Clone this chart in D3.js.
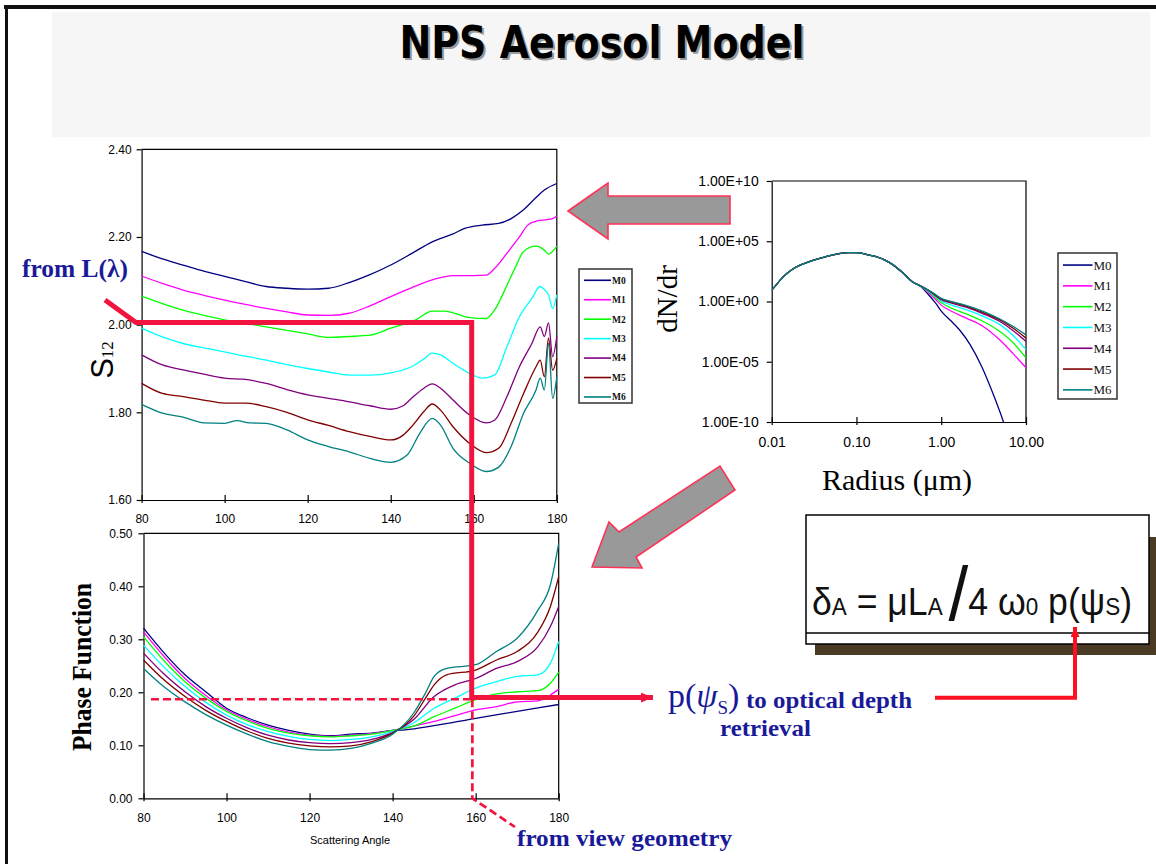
<!DOCTYPE html>
<html><head><meta charset="utf-8">
<script src="https://d3js.org/d3.v7.min.js"></script>
<style>body{margin:0;background:#fff}svg{display:block}</style>
</head><body>
<svg id="c" width="1156" height="864"></svg>
<script>
// ---------------- DATA ----------------
const seriesNames = ["M0","M1","M2","M3","M4","M5","M6"];
const seriesColors = ["#000080","#ff00ff","#00ff00","#00ffff","#800080","#800000","#008080"];

// S12 vs scattering angle  [angle, S12]
const s12M0 = [[80,2.167],[85,2.150],[90,2.136],[95,2.122],[100,2.110],[105,2.098],[110,2.087],[115,2.083],[120,2.081],[125,2.083],[130,2.096],[135,2.114],[140,2.136],[145,2.162],[150,2.189],[155,2.207],[158,2.220],[162,2.227],[166,2.231],[169,2.242],[172,2.262],[175,2.290],[177,2.307],[180,2.322]];
const s12M1 = [[80,2.111],[85,2.094],[90,2.079],[95,2.067],[100,2.056],[105,2.046],[110,2.037],[115,2.029],[120,2.022],[125,2.021],[130,2.026],[135,2.043],[140,2.064],[145,2.084],[150,2.102],[155,2.112],[160,2.112],[163,2.113],[165,2.128],[168,2.163],[171,2.200],[173,2.227],[175,2.236],[177,2.239],[179,2.242],[180,2.248]];
const s12M2 = [[80,2.065],[85,2.048],[90,2.033],[95,2.021],[100,2.011],[105,2.003],[110,1.995],[115,1.987],[120,1.979],[125,1.971],[130,1.973],[135,1.976],[140,1.992],[146,2.011],[150,2.031],[153,2.031],[156,2.024],[159,2.016],[163,2.014],[165,2.033],[168,2.090],[170,2.130],[172,2.167],[175,2.179],[177,2.170],[178,2.161],[180,2.179]];
const s12M3 = [[80,1.992],[85,1.972],[90,1.957],[95,1.947],[100,1.938],[105,1.928],[110,1.919],[115,1.909],[120,1.900],[125,1.892],[130,1.885],[135,1.885],[140,1.890],[145,1.904],[148,1.922],[150,1.935],[152,1.931],[155,1.912],[159,1.889],[162,1.878],[165,1.885],[168,1.950],[171,2.018],[174,2.060],[176,2.087],[177,2.080],[178,2.068],[179,2.037],[180,2.068]];
const s12M4 = [[80,1.931],[85,1.908],[90,1.897],[95,1.887],[100,1.878],[105,1.875],[110,1.866],[115,1.852],[120,1.840],[125,1.832],[130,1.824],[135,1.815],[140,1.807],[143,1.815],[145,1.832],[148,1.855],[150,1.865],[152,1.855],[155,1.828],[159,1.794],[163,1.776],[165,1.782],[168,1.836],[171,1.904],[174,1.957],[176,1.995],[177,1.973],[178,2.004],[179,1.927],[180,1.973]];
const s12M5 = [[80,1.866],[85,1.843],[90,1.836],[95,1.828],[100,1.821],[105,1.821],[110,1.813],[115,1.800],[120,1.783],[125,1.770],[130,1.756],[135,1.745],[140,1.737],[143,1.748],[145,1.767],[148,1.802],[150,1.819],[152,1.805],[155,1.767],[159,1.729],[163,1.708],[166,1.718],[169,1.775],[172,1.843],[175,1.904],[176,1.919],[177,1.881],[178,1.969],[179,1.896],[180,1.923]];
const s12M6 = [[80,1.818],[85,1.798],[90,1.789],[95,1.776],[100,1.775],[103,1.781],[106,1.776],[110,1.775],[115,1.760],[120,1.737],[125,1.722],[130,1.710],[135,1.695],[140,1.686],[144,1.703],[147,1.752],[150,1.786],[152,1.771],[155,1.718],[159,1.684],[163,1.665],[166,1.675],[169,1.722],[172,1.798],[175,1.851],[176,1.878],[177,1.851],[178,1.957],[179,1.832],[180,1.881]];
const s12Series = [s12M0,s12M1,s12M2,s12M3,s12M4,s12M5,s12M6];
const s12Ticks = [1.60,1.80,2.00,2.20,2.40];
const angleTicks = [80,100,120,140,160,180];

// Phase function vs scattering angle  [angle, P]
const pfM0 = [[80,0.321],[85,0.274],[90,0.233],[95,0.201],[100,0.170],[105,0.152],[110,0.138],[115,0.128],[120,0.121],[125,0.118],[130,0.121],[135,0.123],[140,0.128],[143,0.129],[150,0.137],[160,0.151],[170,0.164],[180,0.177]];
const pfM1 = [[80,0.314],[85,0.267],[90,0.226],[95,0.194],[100,0.167],[105,0.149],[110,0.135],[115,0.125],[120,0.119],[125,0.117],[130,0.119],[135,0.122],[140,0.128],[145,0.136],[150,0.145],[155,0.156],[160,0.167],[165,0.173],[170,0.182],[175,0.184],[178,0.195],[180,0.206]];
const pfM2 = [[80,0.305],[85,0.259],[90,0.220],[95,0.189],[100,0.164],[105,0.146],[110,0.132],[115,0.123],[120,0.118],[125,0.116],[130,0.118],[135,0.121],[140,0.128],[145,0.136],[150,0.154],[155,0.170],[160,0.186],[165,0.197],[170,0.201],[175,0.203],[178,0.217],[180,0.238]];
const pfM3 = [[80,0.289],[85,0.247],[90,0.211],[95,0.181],[100,0.157],[105,0.139],[110,0.126],[115,0.117],[120,0.111],[125,0.109],[130,0.111],[135,0.116],[140,0.126],[145,0.142],[150,0.170],[155,0.189],[160,0.208],[165,0.220],[170,0.230],[175,0.233],[178,0.255],[180,0.296]];
const pfM4 = [[80,0.274],[85,0.234],[90,0.201],[95,0.173],[100,0.151],[105,0.133],[110,0.119],[115,0.110],[120,0.105],[125,0.103],[130,0.105],[135,0.111],[140,0.124],[145,0.148],[150,0.192],[155,0.214],[160,0.226],[165,0.245],[170,0.258],[175,0.286],[178,0.324],[180,0.362]];
const pfM5 = [[80,0.261],[85,0.223],[90,0.192],[95,0.166],[100,0.145],[105,0.127],[110,0.113],[115,0.104],[120,0.099],[125,0.097],[130,0.099],[135,0.107],[140,0.123],[145,0.154],[148,0.190],[150,0.214],[153,0.233],[160,0.242],[165,0.261],[170,0.277],[175,0.314],[178,0.362],[180,0.418]];
const pfM6 = [[80,0.245],[85,0.210],[90,0.182],[95,0.158],[100,0.138],[105,0.121],[110,0.107],[115,0.098],[120,0.092],[125,0.091],[130,0.094],[135,0.104],[140,0.121],[145,0.160],[148,0.200],[150,0.230],[153,0.245],[160,0.252],[165,0.277],[170,0.302],[175,0.355],[178,0.403],[180,0.481]];
const pfSeries = [pfM0,pfM1,pfM2,pfM3,pfM4,pfM5,pfM6];
const pfTicks = [0,0.1,0.2,0.3,0.4,0.5];

// Size distribution dN/dr vs radius (µm)
const sizeCommon = [[0.01,8.9],[0.0112,22],[0.0125,56],[0.015,200],[0.0178,500],[0.022,1.1e3],[0.03,2.5e3],[0.044,5.4e3],[0.06,8.9e3],[0.08,1.15e4],[0.1,1.12e4],[0.13,8.3e3],[0.17,5.2e3],[0.22,2.6e3],[0.27,1.1e3],[0.35,250],[0.46,42],[0.55,22]];
const sizeTailM0 = [[0.7,4.0],[0.85,0.8],[1.0,0.16],[1.3,0.025],[1.64,4.5e-3],[2.2,2.5e-4],[3.0,4e-6],[4.0,3.2e-8],[5.3,1.6e-10],[5.6,5e-11]];
const sizeTailM1 = [[0.7,5.6],[0.85,1.6],[1.0,0.5],[1.27,0.18],[2.0,0.04],[3.13,8.5e-3],[4.92,6.3e-4],[7.0,5e-5],[10,3.2e-6]];
const sizeTailM2 = [[0.7,7.1],[0.85,2.2],[1.0,0.8],[1.27,0.32],[2.0,0.089],[3.13,0.022],[4.92,3.2e-3],[7.0,4e-4],[10,2e-5]];
const sizeTailM3 = [[0.7,7.9],[0.85,2.8],[1.0,1.1],[1.27,0.56],[2.0,0.2],[3.13,0.058],[4.92,0.012],[7.0,1.6e-3],[10,1e-4]];
const sizeTailM4 = [[0.7,8.5],[0.85,3.2],[1.0,1.4],[1.27,0.8],[2.0,0.32],[3.13,0.095],[4.92,0.022],[7.0,4e-3],[10,4.8e-4]];
const sizeTailM5 = [[0.7,8.9],[0.85,3.5],[1.0,1.6],[1.27,0.95],[2.0,0.4],[3.13,0.12],[4.92,0.03],[7.0,6.3e-3],[10,9.1e-4]];
const sizeTailM6 = [[0.7,9.3],[0.85,4.0],[1.0,1.8],[1.27,1.1],[2.0,0.45],[3.13,0.15],[4.92,0.035],[7.0,8.9e-3],[10,1.7e-3]];
const sizeTails = [sizeTailM0,sizeTailM1,sizeTailM2,sizeTailM3,sizeTailM4,sizeTailM5,sizeTailM6];
const radiusTicks = [0.01,0.1,1,10];
const dndrTicks = [1e-10,1e-5,1,1e5,1e10];

// ---------------- DRAWING ----------------
const svg = d3.select("#c");
const SANS = "Liberation Sans, Arial, sans-serif";
const SERIF = "Liberation Serif, Times New Roman, serif";
const BLUE = "#1a1a99";
const RED = "#f2143f";
const NB = "\u00a0";

const defs = svg.append("defs");
function marker(id, color, w, h) {
  defs.append("marker").attr("id", id).attr("markerUnits","userSpaceOnUse")
    .attr("markerWidth", w).attr("markerHeight", h).attr("refX", w).attr("refY", h/2)
    .attr("orient","auto")
    .append("path").attr("d", `M0,0L${w},${h/2}L0,${h}Z`).attr("fill", color);
}
marker("arrRed", RED, 12, 10);
marker("arrRed2", "#ff1020", 10, 9);

// slide frame and title band
svg.append("rect").attr("x",52).attr("y",12).attr("width",1098).attr("height",125).attr("fill","#f6f6f6");
svg.append("rect").attr("x",4).attr("y",5).attr("width",1152).attr("height",4).attr("fill","#111");
svg.append("rect").attr("x",5).attr("y",5).attr("width",3).attr("height",859).attr("fill","#111");

svg.append("text").attr("x",604).attr("y",60).attr("text-anchor","middle")
  .attr("font-family","DejaVu Sans Condensed, DejaVu Sans, sans-serif").attr("font-weight","bold")
  .attr("font-size",45).attr("fill","#9a9a9a").attr("textLength",405).attr("lengthAdjust","spacingAndGlyphs")
  .text("NPS Aerosol Model");
svg.append("text").attr("x",602).attr("y",58).attr("text-anchor","middle")
  .attr("font-family","DejaVu Sans Condensed, DejaVu Sans, sans-serif").attr("font-weight","bold")
  .attr("font-size",45).attr("fill","#000").attr("textLength",405).attr("lengthAdjust","spacingAndGlyphs")
  .text("NPS Aerosol Model");

function styleAxis(g, size) {
  g.select(".domain").attr("stroke","#000").attr("stroke-width",1.2);
  g.selectAll(".tick line").attr("stroke","#000").attr("stroke-width",1.2);
  g.selectAll("text").attr("font-family",SANS).attr("font-size",size).attr("fill","#000");
}
function frame(x, y) {
  const [x0,x1] = x.range(), [y0,y1] = y.range();
  svg.append("path").attr("d",`M${x0},${y1}H${x1}V${y0}`).attr("fill","none").attr("stroke","#000").attr("stroke-width",1.2);
}
function xAxisCross(x, yPos, fmt, pad, size) {
  const g = svg.append("g").attr("transform",`translate(0,${yPos})`)
    .call(d3.axisBottom(x).tickValues(x.ticksUsed).tickFormat(fmt).tickSize(0).tickPadding(pad));
  g.selectAll(".tick").append("line").attr("y1",-5).attr("y2",3);
  styleAxis(g, size);
  return g;
}
function legend(x, y, w, h, step, lx0, lx1, fontFam, fontSize, weight) {
  svg.append("rect").attr("x",x).attr("y",y).attr("width",w).attr("height",h)
    .attr("fill","#fff").attr("stroke","#333").attr("stroke-width",1.5);
  const gi = svg.append("g").selectAll("g").data(seriesNames).join("g")
    .attr("transform",(d,i)=>`translate(0,${y + step*0.58 + i*step})`);
  gi.append("line").attr("x1",lx0).attr("x2",lx1).attr("stroke",(d,i)=>seriesColors[i]).attr("stroke-width",1.6);
  gi.append("text").attr("x",lx1+1).attr("y",fontSize*0.35).attr("font-family",fontFam)
    .attr("font-size",fontSize).attr("font-weight",weight).attr("fill","#111").text(d=>d);
}

// ---- S12 chart ----
const xTop = d3.scaleLinear().domain([80,180]).range([141.6,556.8]);
const yTop = d3.scaleLinear().domain([1.6,2.4]).range([500,149.3]);
xTop.ticksUsed = angleTicks;
frame(xTop, yTop);
{
  const g = svg.append("g").attr("transform",`translate(${xTop.range()[0]},0)`)
    .call(d3.axisLeft(yTop).tickValues(s12Ticks).tickFormat(d3.format(".2f")).tickSizeInner(5).tickSizeOuter(0).tickPadding(5));
  styleAxis(g, 12);
  xAxisCross(xTop, yTop.range()[0], d3.format("d"), 14, 12);
}
const lineTop = d3.line().x(d=>xTop(d[0])).y(d=>yTop(d[1])).curve(d3.curveMonotoneX);
svg.append("g").selectAll("path").data(s12Series).join("path")
  .attr("d", lineTop).attr("fill","none").attr("stroke",(d,i)=>seriesColors[i]).attr("stroke-width",1.3);
svg.append("text").attr("transform","translate(113,360) rotate(-90)").attr("text-anchor","middle")
  .call(t=>{ t.append("tspan").attr("font-family",SANS).attr("font-size",31).text("S");
             t.append("tspan").attr("font-family",SERIF).attr("font-size",17).text("12"); });
legend(579, 269, 53, 134, 19.45, 584, 611, SERIF, 9.5, "bold");

// ---- Phase function chart ----
const xBot = d3.scaleLinear().domain([80,180]).range([143.5,558.7]);
const yBot = d3.scaleLinear().domain([0,0.5]).range([798.3,533.3]);
xBot.ticksUsed = angleTicks;
frame(xBot, yBot);
{
  const g = svg.append("g").attr("transform",`translate(${xBot.range()[0]},0)`)
    .call(d3.axisLeft(yBot).tickValues(pfTicks).tickFormat(d3.format(".2f")).tickSizeInner(5).tickSizeOuter(0).tickPadding(6));
  styleAxis(g, 12);
  xAxisCross(xBot, yBot.range()[0], d3.format("d"), 15, 12);
}
const lineBot = d3.line().x(d=>xBot(d[0])).y(d=>yBot(d[1])).curve(d3.curveMonotoneX);
svg.append("g").selectAll("path").data(pfSeries).join("path")
  .attr("d", lineBot).attr("fill","none").attr("stroke",(d,i)=>seriesColors[i]).attr("stroke-width",1.3);
svg.append("text").attr("x",350).attr("y",844).attr("text-anchor","middle")
  .attr("font-family",SANS).attr("font-size",11).attr("fill","#000").text("Scattering Angle");
svg.append("text").attr("transform","translate(91,667) rotate(-90)").attr("text-anchor","middle")
  .attr("font-family",SERIF).attr("font-weight","bold").attr("font-size",28)
  .attr("textLength",168).attr("lengthAdjust","spacingAndGlyphs").text("Phase Function");

// ---- Size distribution chart ----
const xR = d3.scaleLog().domain([0.01,10]).range([771.7,1026]);
const yR = d3.scaleLog().domain([1e-10,1e10]).range([422,181]);
xR.ticksUsed = radiusTicks;
frame(xR, yR);
{
  const expFmt = d => { const e = Math.round(Math.log10(d)); return "1.00E" + (e<0?"-":"+") + String(Math.abs(e)).padStart(2,"0"); };
  const g = svg.append("g").attr("transform",`translate(${xR.range()[0]},0)`)
    .call(d3.axisLeft(yR).tickValues(dndrTicks).tickFormat(expFmt).tickSizeInner(5).tickSizeOuter(0).tickPadding(8));
  styleAxis(g, 14);
  xAxisCross(xR, yR.range()[0], d3.format(".2f"), 15, 14);
}
defs.append("clipPath").attr("id","clipR").append("rect")
  .attr("x",xR.range()[0]).attr("y",yR.range()[1]).attr("width",xR.range()[1]-xR.range()[0]).attr("height",yR.range()[0]-yR.range()[1]);
const lineR = d3.line().x(d=>xR(d[0])).y(d=>yR(d[1])).curve(d3.curveMonotoneX);
svg.append("g").attr("clip-path","url(#clipR)").selectAll("path").data(sizeTails.map(t=>sizeCommon.concat(t))).join("path")
  .attr("d", lineR).attr("fill","none").attr("stroke",(d,i)=>seriesColors[i]).attr("stroke-width",1.3);
svg.append("text").attr("transform","translate(677,299) rotate(-90)").attr("text-anchor","middle")
  .attr("font-family",SERIF).attr("font-size",29).attr("fill","#000").text("dN/dr");
svg.append("text").attr("x",897).attr("y",490).attr("text-anchor","middle")
  .attr("font-family",SERIF).attr("font-size",30).attr("fill","#000").text("Radius (\u03bcm)");
legend(1058, 253, 59, 146, 20.8, 1063, 1092.5, SERIF, 13, "normal");

// ---- grey block arrows ----
svg.append("polygon").attr("points","568,211 608,183 608,196 730,196 730,224 608,224 608,239")
  .attr("fill","#999").attr("stroke","#ff3355").attr("stroke-width",1.6);
svg.append("polygon").attr("points","592,567 609,522 619,532 720,466 735,490 636,557 642,568")
  .attr("fill","#999").attr("stroke","#ff3355").attr("stroke-width",1.6);

// ---- formula box ----
svg.append("rect").attr("x",815).attr("y",537).attr("width",350).attr("height",118).attr("fill","#4b3a24");
svg.append("rect").attr("x",806).attr("y",515).attr("width",343).attr("height",129).attr("fill","#fff").attr("stroke","#000").attr("stroke-width",1.5);
svg.append("line").attr("x1",806).attr("x2",1149).attr("y1",633).attr("y2",633).attr("stroke","#000").attr("stroke-width",1.5);
{
  const pieces = [
    {t:"\u03b4",s:38},{t:"A",s:24},{t:NB+"="+NB+"\u03bcL",s:38},{t:"A",s:24},{t:NB,s:22},
    {t:"/",s:76,dy:5},{t:"4"+NB+"\u03c9",s:38},{t:"0",s:24},{t:NB+"p(\u03c8",s:38},{t:"S",s:24},{t:")",s:38}];
  const fg = svg.append("g");
  let cx = 0;
  pieces.forEach(p => {
    const t = fg.append("text").attr("x",cx).attr("y",p.dy||0).attr("font-family",SANS)
      .attr("font-size",p.s).attr("fill","#111").text(p.t);
    cx += t.node().getComputedTextLength();
  });
  fg.attr("transform",`translate(812,615) scale(${320/cx},1)`);
}

// ---- annotations ----
svg.append("text").attr("x",22).attr("y",277).attr("font-family",SERIF).attr("font-weight","bold")
  .attr("font-size",25).attr("fill",BLUE).attr("textLength",106).attr("lengthAdjust","spacingAndGlyphs").text("from L(\u03bb)");

const xSel = 159.5, s12Sel = 2.005, pfSel = 0.19;
svg.append("path")
  .attr("d",`M105,300L136,${yTop(s12Sel)}H${xTop(xSel)}V${yBot(pfSel)}H653`)
  .attr("fill","none").attr("stroke",RED).attr("stroke-width",5).attr("marker-end","url(#arrRed)");
svg.append("path")
  .attr("d",`M${xBot(81.8)},${yBot(0.187)}H${xBot(159.2)}`)
  .attr("fill","none").attr("stroke",RED).attr("stroke-width",2.5).attr("stroke-dasharray","8,4");
svg.append("path")
  .attr("d",`M${xBot(159.2)},${yBot(0.187)}V${yBot(0)}L515,827`)
  .attr("fill","none").attr("stroke",RED).attr("stroke-width",2.7).attr("stroke-dasharray","8,4");
svg.append("path").attr("d","M935,697.7H1075V627")
  .attr("fill","none").attr("stroke","#ff1020").attr("stroke-width",4).attr("marker-end","url(#arrRed2)");

svg.append("text").attr("x",517).attr("y",846).attr("font-family",SERIF).attr("font-weight","bold")
  .attr("font-size",24).attr("fill",BLUE).attr("textLength",215).attr("lengthAdjust","spacingAndGlyphs").text("from view geometry");

{
  const t = svg.append("text").attr("x",668).attr("y",707).attr("font-family",SERIF).attr("fill",BLUE);
  t.append("tspan").attr("font-size",34).text("p(");
  t.append("tspan").attr("font-size",34).attr("font-style","italic").text("\u03c8");
  t.append("tspan").attr("font-size",19).attr("dy",7).text("S");
  t.append("tspan").attr("font-size",34).attr("dy",-7).text(")");
  svg.append("text").attr("x",746).attr("y",708).attr("font-family",SERIF).attr("font-weight","bold")
    .attr("font-size",24).attr("fill",BLUE).attr("textLength",166).attr("lengthAdjust","spacingAndGlyphs").text("to optical depth");
  svg.append("text").attr("x",720).attr("y",736).attr("font-family",SERIF).attr("font-weight","bold")
    .attr("font-size",23).attr("fill",BLUE).attr("textLength",91).attr("lengthAdjust","spacingAndGlyphs").text("retrieval");
}
</script>
</body></html>
